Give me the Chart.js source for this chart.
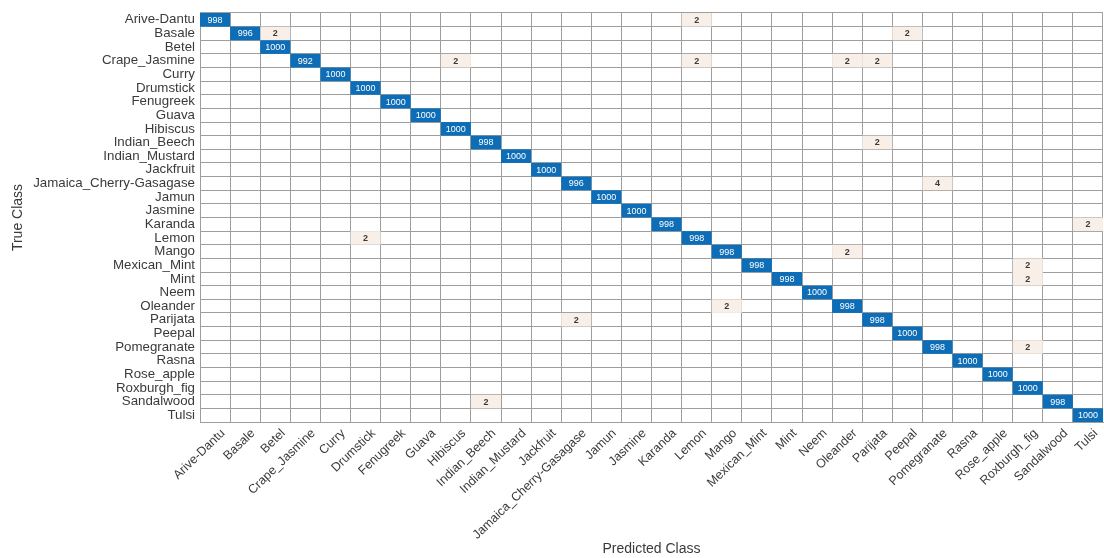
<!DOCTYPE html>
<html>
<head>
<meta charset="utf-8">
<script src="https://cdn.jsdelivr.net/npm/chart.js@4.4.1/dist/chart.umd.min.js"></script>
<style>
  html, body { margin: 0; padding: 0; background: #ffffff; }
  #wrap { width: 1104px; height: 558px; position: relative; }
</style>
</head>
<body>
<div id="wrap"><canvas id="cm"></canvas></div>
<script>
// Class names (rows = true class, columns = predicted class)
const classNames = [
  'Arive-Dantu', 'Basale', 'Betel', 'Crape_Jasmine', 'Curry', 'Drumstick',
  'Fenugreek', 'Guava', 'Hibiscus', 'Indian_Beech', 'Indian_Mustard', 'Jackfruit',
  'Jamaica_Cherry-Gasagase', 'Jamun', 'Jasmine', 'Karanda', 'Lemon', 'Mango',
  'Mexican_Mint', 'Mint', 'Neem', 'Oleander', 'Parijata', 'Peepal',
  'Pomegranate', 'Rasna', 'Rose_apple', 'Roxburgh_fig', 'Sandalwood', 'Tulsi'
];

// Correct predictions (diagonal), in class order
const diagCounts = [
  998, 996, 1000, 992, 1000, 1000,
  1000, 1000, 1000, 998, 1000, 1000,
  996, 1000, 1000, 998, 998, 998,
  998, 998, 1000, 998, 998, 1000,
  998, 1000, 1000, 1000, 998, 1000
];

// Misclassifications: true class -> predicted class, count
const offTrue = [
  'Arive-Dantu', 'Basale', 'Basale', 'Crape_Jasmine', 'Crape_Jasmine', 'Crape_Jasmine',
  'Crape_Jasmine', 'Indian_Beech', 'Jamaica_Cherry-Gasagase', 'Karanda', 'Lemon', 'Mango',
  'Mexican_Mint', 'Mint', 'Oleander', 'Parijata', 'Pomegranate', 'Sandalwood'
];
const offPred = [
  'Lemon', 'Betel', 'Peepal', 'Hibiscus', 'Lemon', 'Oleander',
  'Parijata', 'Parijata', 'Pomegranate', 'Tulsi', 'Drumstick', 'Oleander',
  'Roxburgh_fig', 'Roxburgh_fig', 'Mango', 'Jamaica_Cherry-Gasagase', 'Roxburgh_fig', 'Indian_Beech'
];
const offCounts = [2, 2, 2, 2, 2, 2, 2, 2, 4, 2, 2, 2, 2, 2, 2, 2, 2, 2];

// Each cell is a floating bar spanning one row of the linear y scale
const cell = (trueName, predName, v) => {
  const r = classNames.indexOf(trueName);
  return { x: predName, y: [r - 0.5, r + 0.5], v: v };
};
const diagData = classNames.map((n, i) => cell(n, n, diagCounts[i]));
const offData = offTrue.map((t, i) => cell(t, offPred[i], offCounts[i]));

const FONT = 'Liberation Sans, Arial, Helvetica, sans-serif';
const GRID = '#9e9e9e';
const TEXT = '#3a3a3a';

// Writes each cell's count in the middle of its bar
const cellLabels = {
  id: 'cellLabels',
  afterDatasetsDraw(chart) {
    const ctx = chart.ctx;
    ctx.save();
    ctx.textAlign = 'center';
    ctx.textBaseline = 'middle';
    chart.data.datasets.forEach((ds, di) => {
      const meta = chart.getDatasetMeta(di);
      meta.data.forEach((el, i) => {
        const p = el.getProps(['x', 'y', 'base'], true);
        ctx.fillStyle = ds.textColor;
        ctx.font = ds.textFont;
        ctx.fillText(String(ds.data[i].v), p.x, (p.y + p.base) / 2 + 0.5);
      });
    });
    ctx.restore();
  }
};

new Chart(document.getElementById('cm'), {
  type: 'bar',
  data: {
    labels: classNames,
    datasets: [
      {
        label: 'correct',
        data: diagData,
        backgroundColor: '#0d6db6',
        textColor: '#ffffff',
        textFont: '9px ' + FONT,
        borderWidth: 0,
        inflateAmount: 0
      },
      {
        label: 'misclassified',
        data: offData,
        backgroundColor: '#f8efe9',
        textColor: TEXT,
        textFont: 'bold 9px ' + FONT,
        borderWidth: 0,
        inflateAmount: 0
      }
    ]
  },
  options: {
    responsive: true,
    maintainAspectRatio: false,
    animation: false,
    grouped: false,
    barPercentage: 1,
    categoryPercentage: 1,
    layout: { padding: { top: 10, right: 1, bottom: 0, left: 0 } },
    plugins: {
      legend: { display: false },
      tooltip: { enabled: false }
    },
    scales: {
      x: {
        type: 'category',
        offset: true,
        grid: { display: true, offset: true, color: GRID, drawTicks: false },
        border: { display: true, color: GRID },
        ticks: {
          autoSkip: false,
          minRotation: 44,
          maxRotation: 44,
          padding: 4,
          labelOffset: 8,
          color: TEXT,
          font: { family: FONT, size: 12.5 }
        },
        title: {
          display: true,
          text: 'Predicted Class',
          color: TEXT,
          font: { family: FONT, size: 14 },
          padding: { top: 0, bottom: 0 }
        },
        afterFit(scale) { scale.height = 136; }
      },
      y: {
        type: 'linear',
        reverse: true,
        min: -0.5,
        max: classNames.length - 0.5,
        afterBuildTicks(scale) {
          scale.ticks = classNames.map((_, i) => ({ value: i }));
        },
        grid: { display: true, offset: true, color: GRID, drawTicks: false },
        border: { display: true, color: GRID },
        ticks: {
          autoSkip: false,
          padding: 5,
          color: TEXT,
          font: { family: FONT, size: 13.3 },
          callback: (v) => classNames[v]
        },
        title: {
          display: true,
          text: 'True Class',
          color: TEXT,
          font: { family: FONT, size: 14 },
          padding: { top: 10, bottom: 0 }
        },
        afterFit(scale) { scale.width = 200; }
      }
    }
  },
  plugins: [cellLabels]
});
</script>
</body>
</html>
